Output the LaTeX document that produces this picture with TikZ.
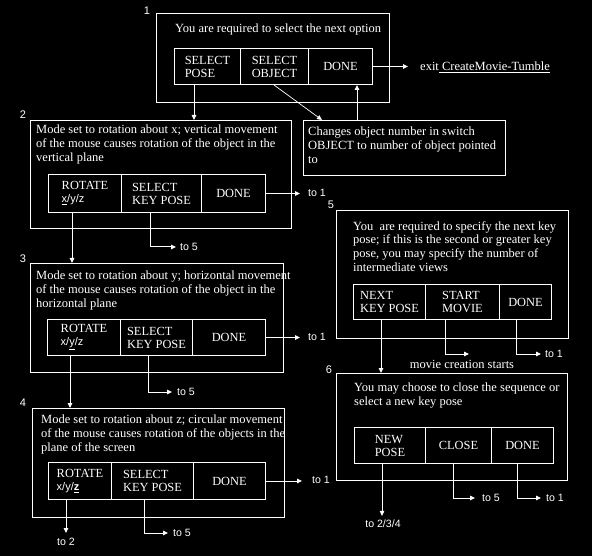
\documentclass[tikz,border=0pt]{standalone}
\usepackage{fontspec}
\setmainfont{Liberation Serif}
\newfontfamily\sansf{Liberation Sans}
\usetikzlibrary{arrows.meta,calc}
\begin{document}
\begin{tikzpicture}[x=1pt,y=-1pt,
  every node/.style={text=white, inner sep=0pt},
  box/.style={draw=white, line width=1pt, anchor=north west},
  cell/.style={draw=white, line width=1pt, anchor=north west, align=left,
    font=\fontsize{12.4}{13}\selectfont},
  desc/.style={anchor=north west, align=left, font=\fontsize{12.5}{13.7}\selectfont},
  tolab/.style={anchor=west, font=\sansf\fontsize{10.6}{12}\selectfont},
  num/.style={font=\sansf\fontsize{11}{12}\selectfont},
  ln/.style={draw=white, line width=1pt},
  arr/.style={draw=white, line width=1pt, -{Triangle[length=5pt,width=4.5pt]}}]
\newcommand{\xyz}[1]{{\sansf\fontsize{11}{12}\selectfont #1}}
\fill[black] (0,0) rectangle (592,556);
\useasboundingbox (0,0) rectangle (592,556);

% ---------- box 1
\node[box, minimum width=233, minimum height=89] (b1) at (156,13) {};
\node[num] (n1) at (147,11) {1};
\node[desc, anchor=west] (d1) at (175,29) {You are required to select the next option};
\node[cell, minimum width=66, minimum height=36] (b1a) at (174,48) {SELECT\\POSE};
\node[cell, minimum width=68, minimum height=36] (b1b) at (240,48) {SELECT\\OBJECT};
\node[cell, minimum width=64, minimum height=36] (b1c) at (308,48) {DONE};
\node[desc, anchor=west] (exit) at (420,67) {exit\underline{ CreateMovie-Tumble}};

% ---------- changes box
\node[box, minimum width=202, minimum height=55] (chg) at (303,120) {};
\node[desc] (dchg) at (308,127) {Changes object number in switch\\OBJECT to number of object pointed\\to};

% ---------- box 2
\node[box, minimum width=261, minimum height=108] (b2) at (30,120) {};
\node[num] (n2) at (23,115) {2};
\node[desc] (d2) at (36,125) {Mode set to rotation about x; vertical movement\\of the mouse causes rotation of the object in the\\vertical plane};
\node[cell, minimum width=73, minimum height=38] (b2a) at (48,174) {ROTATE\\\xyz{\underline{x}/y/z}};
\node[cell, minimum width=80, minimum height=38] (b2b) at (121,174) {SELECT\\KEY POSE};
\node[cell, minimum width=64, minimum height=38] (b2c) at (201,174) {DONE};
\node[tolab] (t21) at (308,193) {to 1};
\node[tolab] (t25) at (180,247) {to 5};

% ---------- box 3
\node[box, minimum width=253, minimum height=109] (b3) at (30,263) {};
\node[num] (n3) at (23,259) {3};
\node[desc] (d3) at (36,271) {Mode set to rotation about y; horizontal movement\\of the mouse causes rotation of the object in the\\horizontal plane};
\node[cell, minimum width=73, minimum height=36] (b3a) at (47,319) {ROTATE\\\xyz{x/\underline{y}/z}};
\node[cell, minimum width=72, minimum height=36] (b3b) at (120,319) {SELECT\\KEY POSE};
\node[cell, minimum width=73, minimum height=36] (b3c) at (192,319) {DONE};
\node[tolab] (t31) at (308,337) {to 1};
\node[tolab] (t35) at (177,392) {to 5};

% ---------- box 4
\node[box, minimum width=252, minimum height=109] (b4) at (32,408) {};
\node[num] (n4) at (23,403) {4};
\node[desc] (d4) at (41,415) {Mode set to rotation about z; circular movement\\of the mouse causes rotation of the objects in the\\plane of the screen};
\node[cell, minimum width=63, minimum height=37] (b4a) at (48,462) {ROTATE\\\xyz{x/y/\underline{\textbf{z}}}};
\node[cell, minimum width=82, minimum height=37] (b4b) at (111,462) {SELECT\\KEY POSE};
\node[cell, minimum width=72, minimum height=37] (b4c) at (193,462) {DONE};
\node[tolab] (t41) at (312,480) {to 1};
\node[tolab] (t45) at (173,533) {to 5};
\node[tolab, anchor=center] (t42) at (66,542) {to 2};

% ---------- box 5
\node[box, minimum width=232, minimum height=128] (b5) at (336,210) {};
\node[num] (n5) at (331,205) {5};
\node[desc] (d5) at (353,221) {You\ \ are required to specify the next key\\pose; if this is the second or greater key\\pose, you may specify the number of\\intermediate views};
\node[cell, minimum width=72, minimum height=35] (b5a) at (353,284) {NEXT\\KEY POSE};
\node[cell, minimum width=74, minimum height=35] (b5b) at (425,284) {START\\MOVIE};
\node[cell, minimum width=52, minimum height=35] (b5c) at (499,284) {DONE};
\node[desc, anchor=center] (mcs) at (462,364) {movie creation starts};
\node[tolab] (t51) at (545,354) {to 1};
\coordinate (ms) at (469,354);

% ---------- box 6
\node[box, minimum width=231, minimum height=107] (b6) at (336,373) {};
\node[num] (n6) at (329,370) {6};
\node[desc] (d6) at (354,383) {You may choose to close the sequence or\\select a new key pose};
\node[cell, minimum width=71, minimum height=36] (b6a) at (354,427) {NEW\\POSE};
\node[cell, minimum width=66, minimum height=36] (b6b) at (425,427) {CLOSE};
\node[cell, minimum width=62, minimum height=36] (b6c) at (491,427) {DONE};
\node[tolab] (t65) at (482,498) {to 5};
\node[tolab] (t61) at (546,498) {to 1};
\node[tolab, anchor=center] (t6x) at (383,524) {to 2/3/4};

% ---------- connectors
\draw[arr] ([xshift=20pt]b1a.south west) -- ([xshift=20pt]b1a.south west |- b2.north);
\draw[arr, line width=0.7pt] ([xshift=34pt]b1b.south west) -- ([xshift=19pt]chg.north west);
\draw[arr] ([xshift=54pt]chg.north west) -- ([xshift=54pt]chg.north west |- b1c.south);
\draw[arr] (b1c.east) -- ([xshift=-12pt]b1c.east -| exit.west);

\draw[arr] ([xshift=24pt]b2a.south west) -- ([xshift=24pt]b2a.south west |- b3.north);
\draw[arr] ([xshift=29pt]b2b.south west) |- ([xshift=-4pt]t25.west);
\draw[arr] (b2c.east) -- ([xshift=-8pt]b2c.east -| t21.west);

\draw[arr] ([xshift=23pt]b3a.south west) -- ([xshift=23pt]b3a.south west |- b4.north);
\draw[arr] ([xshift=28pt]b3b.south west) |- ([xshift=-5pt]t35.west);
\draw[arr] (b3c.east) -- ([xshift=-8pt]b3c.east -| t31.west);

\draw[arr, shorten >=5pt] ([xshift=18pt]b4a.south west) -- ([xshift=18pt]b4a.south west |- t42.north);
\draw[arr] ([xshift=33pt]b4b.south west) |- ([xshift=-5pt]t45.west);
\draw[arr] (b4c.east) -- ([xshift=-10pt]b4c.east -| t41.west);

\draw[arr] ([xshift=28pt]b5a.south west) -- ([xshift=28pt]b5a.south west |- b6.north);
\draw[arr] ([xshift=20pt]b5b.south west) |- (ms);
\draw[arr] ([xshift=17pt]b5c.south west) |- ([xshift=-4pt]t51.west);

\draw[arr, shorten >=4pt] ([xshift=28pt]b6a.south west) -- ([xshift=28pt]b6a.south west |- t6x.north);
\draw[arr] ([xshift=28pt]b6b.south west) |- ([xshift=-7pt]t65.west);
\draw[arr] ([xshift=26pt]b6c.south west) |- ([xshift=-5pt]t61.west);
\end{tikzpicture}
\end{document}
